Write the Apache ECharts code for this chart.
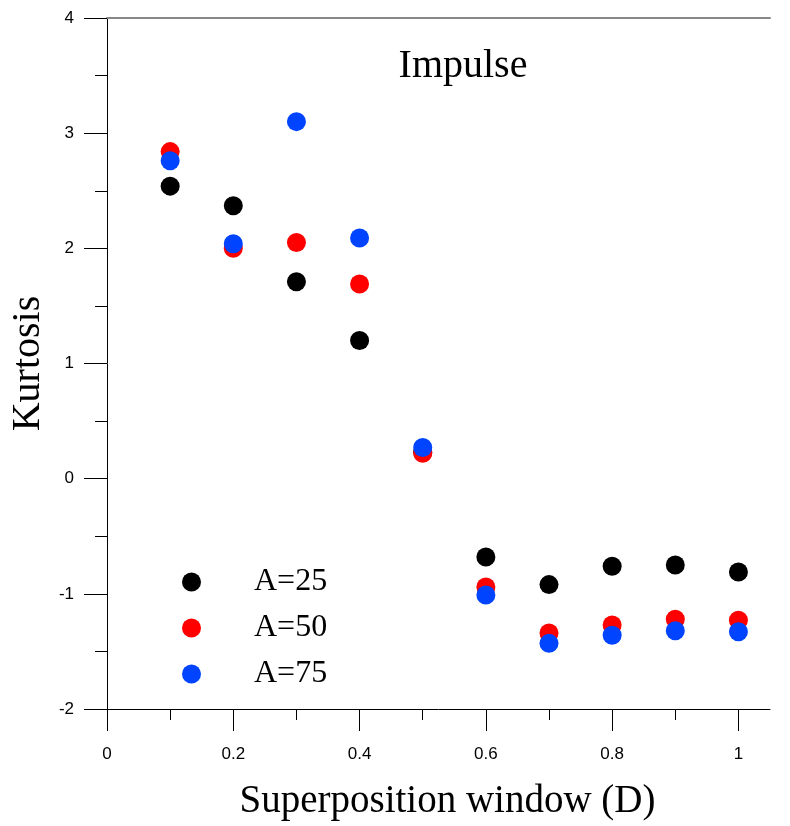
<!DOCTYPE html>
<html><head><meta charset="utf-8">
<script src="https://cdn.jsdelivr.net/npm/echarts@6/dist/echarts.min.js"></script>
<style>html,body{margin:0;padding:0;background:#fff}#c{width:790px;height:826px}</style>
</head><body><div id="c"></div>
<script>
const xValues = [0.1, 0.2, 0.3, 0.4, 0.5, 0.6, 0.7, 0.8, 0.9, 1.0];
const a25 = [2.54, 2.37, 1.71, 1.20, 0.23, -0.68, -0.92, -0.76, -0.75, -0.81];
const a50 = [2.84, 2.00, 2.05, 1.69, 0.22, -0.94, -1.34, -1.27, -1.22, -1.23];
const a75 = [2.76, 2.04, 3.10, 2.09, 0.27, -1.01, -1.43, -1.36, -1.32, -1.33];
const seriesNames = ['A=25', 'A=50', 'A=75'];
const xMajor = [0, 0.2, 0.4, 0.6, 0.8, 1];
const xMinor = [0.1, 0.3, 0.5, 0.7, 0.9];

const serif = '"Liberation Serif", "DejaVu Serif", serif';
const sans = '"Liberation Sans", Arial, sans-serif';
const colors = ['#000000', '#ff0000', '#0044ff'];
const pair = (ys) => xValues.map((x, i) => [x, ys[i]]);

const tickAxis = (vals, len) => ({
  type: 'value', min: 0, max: 1.05, position: 'bottom',
  axisLine: { show: false, onZero: false },
  axisTick: { show: true, length: len, customValues: vals, lineStyle: { color: '#000', width: 1 } },
  axisLabel: { show: false, customValues: vals },
  splitLine: { show: false }
});

const chart = echarts.init(document.getElementById('c'));
chart.setOption({
  animation: false,
  backgroundColor: '#fff',
  title: {
    text: 'Impulse', left: 458, top: 41, textAlign: 'center',
    textStyle: { fontFamily: serif, fontSize: 40, fontWeight: 'normal', color: '#000' }
  },
  legend: {
    orient: 'vertical', left: 177, top: 561, itemWidth: 19, itemHeight: 19, itemGap: 14,
    icon: 'circle', data: seriesNames,
    textStyle: { fontFamily: serif, fontSize: 32, color: '#000', padding: [0, 0, 0, 48] }
  },
  grid: { left: 107, right: 20, top: 18, bottom: 116, containLabel: false },
  xAxis: [
    {
      type: 'value', min: 0, max: 1.05, position: 'bottom',
      name: 'Superposition window (D)', nameLocation: 'middle', nameGap: 73,
      nameTextStyle: { fontFamily: serif, fontSize: 39, color: '#000', padding: [0, 0, 0, 18] },
      axisLine: { show: true, onZero: false, lineStyle: { color: '#000', width: 1 } },
      axisTick: { show: false },
      axisLabel: { customValues: xMajor, margin: 37, fontFamily: sans, fontSize: 17, color: '#000',
        formatter: v => String(v) },
      splitLine: { show: false }
    },
    tickAxis(xMajor, 22),
    tickAxis(xMinor, 11),
    {
      type: 'value', min: 0, max: 1.05, position: 'top',
      axisLine: { show: true, onZero: false, lineStyle: { color: '#888', width: 2 } },
      axisTick: { show: false }, axisLabel: { show: false }, splitLine: { show: false }
    }
  ],
  yAxis: {
    type: 'value', min: -2, max: 4, interval: 1,
    name: 'Kurtosis', nameLocation: 'middle', nameGap: 58,
    nameTextStyle: { fontFamily: serif, fontSize: 40, color: '#000' },
    axisLine: { show: true, onZero: false, lineStyle: { color: '#000', width: 1 } },
    axisTick: { show: true, length: 23, lineStyle: { color: '#000' } },
    minorTick: { show: true, splitNumber: 2, length: 12, lineStyle: { color: '#000' } },
    axisLabel: { margin: 33, fontFamily: sans, fontSize: 17, color: '#000' },
    splitLine: { show: false }
  },
  series: [a25, a50, a75].map((d, i) => ({
    name: seriesNames[i], type: 'scatter', data: pair(d), symbol: 'circle', symbolSize: 19,
    itemStyle: { color: colors[i], opacity: 1 }, xAxisIndex: 0
  }))
});
</script></body></html>
